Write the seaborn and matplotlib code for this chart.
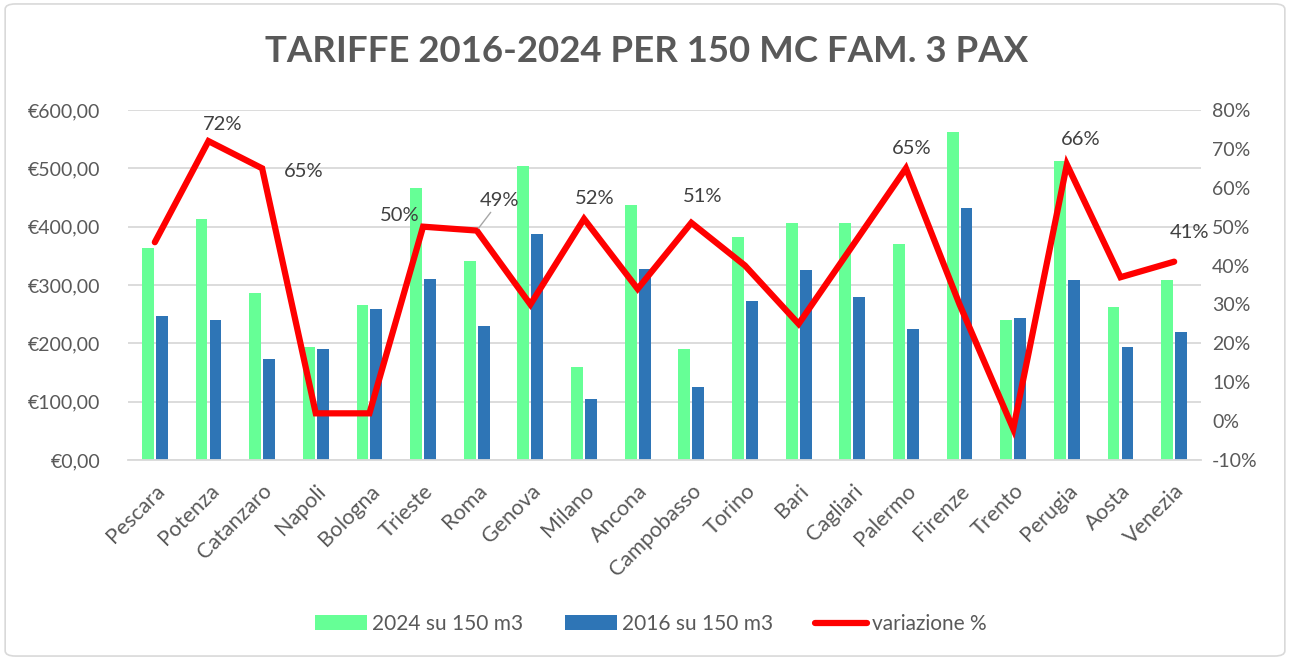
import numpy as np
import pandas as pd
import matplotlib
matplotlib.use("Agg")
import matplotlib.pyplot as plt
import seaborn as sns
from matplotlib.patches import FancyBboxPatch, Patch
from matplotlib.lines import Line2D
from matplotlib.ticker import FuncFormatter, MultipleLocator

# ---------------- data ----------------
cities = ["Pescara", "Potenza", "Catanzaro", "Napoli", "Bologna", "Trieste", "Roma",
          "Genova", "Milano", "Ancona", "Campobasso", "Torino", "Bari", "Cagliari",
          "Palermo", "Firenze", "Trento", "Perugia", "Aosta", "Venezia"]
tariffe_2024 = [363, 413, 286, 194, 265, 467, 342, 504, 160, 437, 191, 382, 407, 407,
                370, 563, 240, 513, 263, 309]
tariffe_2016 = [247, 240, 174, 190, 259, 311, 229, 387, 105, 327, 126, 273, 325, 280,
                225, 432, 244, 308, 193, 219]
variazione = [46, 72, 65, 2, 2, 50, 49, 30, 52, 34, 51, 40, 25, 45, 65, 30, -2, 66, 37, 41]
series_names = ["2024 su 150 m3", "2016 su 150 m3"]
line_name = "variazione %"
title = "TARIFFE 2016-2024 PER 150 MC FAM. 3 PAX"
label_cities = ["Potenza", "Catanzaro", "Trieste", "Roma", "Milano", "Campobasso",
                "Palermo", "Perugia", "Venezia"]
label_offsets = [(14, 17), (42, -3), (-23, 11), (23, 30), (11, 20), (11, 26),
                 (6, 20), (14, 25), (15, 29)]

GREEN = "#66FF96"
BLUE = "#2E75B6"
RED = "#FF0000"
TXT = "#595959"
GRID = "#D9D9D9"

sns.set_theme(style="white")
plt.rcParams["font.family"] = ["Lato", "DejaVu Sans"]

n = len(cities)
df = pd.DataFrame({
    "Città": cities * 2,
    "Serie": [series_names[0]] * n + [series_names[1]] * n,
    "Valore": tariffe_2024 + tariffe_2016,
})

fig = plt.figure(figsize=(12.9, 6.6), dpi=100)
ax = fig.add_axes([128 / 1290, 1 - 460 / 660, (1201 - 128) / 1290, 350 / 660])

sns.barplot(data=df, x="Città", y="Valore", hue="Serie", hue_order=series_names,
            palette=[GREEN, BLUE], width=0.52, gap=0.15, saturation=1,
            errorbar=None, legend=False, linewidth=0, ax=ax)

ax.set_xlim(-0.5, n - 0.5)
ax.set_ylim(0, 600)
ax.yaxis.set_major_locator(MultipleLocator(100))
ax.yaxis.set_major_formatter(FuncFormatter(lambda v, p: "€" + f"{v:.2f}".replace(".", ",")))
ax.yaxis.grid(True, color=GRID, lw=1.3)
ax.set_axisbelow(True)
ax.set_xlabel("")
ax.set_ylabel("")
for s in ["top", "left", "right"]:
    ax.spines[s].set_visible(False)
ax.spines["bottom"].set_color(GRID)
ax.spines["bottom"].set_linewidth(1.3)
ax.tick_params(axis="y", length=0, pad=20, labelsize=14, labelcolor=TXT)
ax.tick_params(axis="x", length=0, pad=15, labelsize=15.5, labelcolor=TXT)
ax.set_xticks(range(n))
ax.set_xticklabels(cities, rotation=45, ha="right", va="top", rotation_mode="anchor")

ax2 = ax.twinx()
sns.lineplot(x=np.arange(n), y=variazione, ax=ax2, color=RED, lw=4.5,
             solid_capstyle="round", solid_joinstyle="miter")
ax2.set_ylim(-10, 80)
ax2.yaxis.set_major_locator(MultipleLocator(10))
ax2.yaxis.set_major_formatter(FuncFormatter(lambda v, p: f"{int(round(v))}%"))
ax2.tick_params(axis="y", length=0, pad=8, labelsize=14, labelcolor=TXT)
for s in ax2.spines.values():
    s.set_visible(False)
ax2.set_ylabel("")

for c, off in zip(label_cities, label_offsets):
    i = cities.index(c)
    kw = {}
    if c == "Roma":
        kw["arrowprops"] = dict(arrowstyle="-", color="#A6A6A6", lw=1, shrinkA=0, shrinkB=2)
    ax2.annotate(f"{variazione[i]}%", (i, variazione[i]), xytext=off,
                 textcoords="offset pixels", ha="center", va="center",
                 fontsize=14.5, color="#404040", **kw)

fig.text(647 / 1290, 1 - 51 / 660, title, ha="center", va="center",
         fontsize=26.4, fontweight="bold", color=TXT)

handles = [Patch(facecolor=GREEN, edgecolor="none"),
           Patch(facecolor=BLUE, edgecolor="none"),
           Line2D([0], [0], color=RED, lw=4.5, solid_capstyle="round")]
fig.legend(handles, series_names + [line_name], loc="center",
           bbox_to_anchor=(651 / 1290, 1 - 624 / 660), ncol=3, frameon=False,
           fontsize=15, labelcolor=TXT, handlelength=2.5, handleheight=0.7,
           handletextpad=0.25, columnspacing=2.0)

fig.patches.append(FancyBboxPatch((0.004, 0.006), 0.992, 0.988,
                                  boxstyle="round,pad=0,rounding_size=0.008",
                                  transform=fig.transFigure, fc="none", ec=GRID, lw=1.2))

fig.savefig("out.png", dpi=100, facecolor="white")
